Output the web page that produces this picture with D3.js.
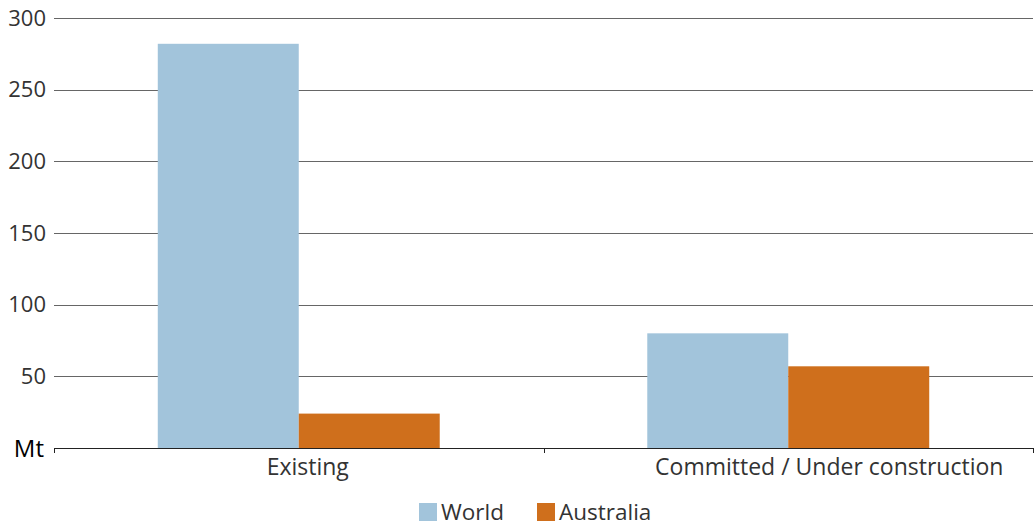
<!DOCTYPE html>
<html>
<head>
<meta charset="utf-8">
<script src="https://cdn.jsdelivr.net/npm/d3@7"></script>
<style>
  html, body { margin: 0; padding: 0; background: #fff; }
  svg { display: block; font-family: "Open Sans", "Noto Sans", sans-serif; }
</style>
</head>
<body>
<svg id="chart" width="1035" height="527"></svg>
<script>
// Capacity by project status, in Mt
const categories = ["Existing", "Committed / Under construction"];
const seriesNames = ["World", "Australia"];
const worldValues = [282, 80];
const australiaValues = [24, 57];
const yTicks = [50, 100, 150, 200, 250, 300];
const seriesColors = ["#a2c4db", "#cf6f1c"];

const svg = d3.select("#chart");
const margin = { left: 54, right: 2, top: 18, bottom: 79 };
const W = 1035, H = 527;
const plotBottom = H - margin.bottom;

const x0 = d3.scaleBand().domain(categories).range([margin.left, W - margin.right]).padding(0);
const groupPad = x0.bandwidth() * 0.212;
const x1 = d3.scaleBand().domain(seriesNames).range([groupPad, x0.bandwidth() - groupPad]).padding(0);
const y = d3.scaleLinear().domain([0, 300]).range([plotBottom, margin.top]);

const rows = categories.map((c, i) => ({ cat: c, vals: [worldValues[i], australiaValues[i]] }));

// gridlines
svg.append("g")
  .selectAll("line")
  .data(yTicks)
  .join("line")
  .attr("x1", margin.left).attr("x2", W - margin.right)
  .attr("y1", d => Math.round(y(d)) + 0.5).attr("y2", d => Math.round(y(d)) + 0.5)
  .attr("stroke", "#666").attr("stroke-width", 1.2);

// bars
const groups = svg.append("g").selectAll("g")
  .data(rows)
  .join("g")
  .attr("transform", d => `translate(${x0(d.cat)},0)`);

groups.selectAll("rect")
  .data(d => d.vals.map((v, i) => ({ name: seriesNames[i], v, i })))
  .join("rect")
  .attr("x", d => x1(d.name))
  .attr("width", x1.bandwidth())
  .attr("y", d => y(d.v))
  .attr("height", d => y(0) - y(d.v))
  .attr("fill", d => seriesColors[d.i]);

// y tick labels
svg.append("g")
  .selectAll("text")
  .data(yTicks)
  .join("text")
  .attr("x", 46).attr("y", d => y(d))
  .attr("dy", "0.35em")
  .attr("text-anchor", "end")
  .attr("font-size", 22)
  .attr("fill", "#333")
  .text(d => d);

svg.append("text")
  .attr("x", 44).attr("y", y(0)).attr("dy", "0.38em")
  .attr("text-anchor", "end")
  .attr("font-size", 24)
  .attr("fill", "#000")
  .text("Mt");

// x axis
const xAxis = svg.append("g").attr("transform", `translate(0,${plotBottom})`);
xAxis.append("line")
  .attr("x1", margin.left).attr("x2", W - margin.right)
  .attr("y1", 0.5).attr("y2", 0.5)
  .attr("stroke", "#222").attr("stroke-width", 1.2);
const boundaries = categories.map(c => x0(c)).concat([x0(categories[categories.length - 1]) + x0.bandwidth()]);
xAxis.selectAll("line.tick")
  .data(boundaries)
  .join("line")
  .attr("class", "tick")
  .attr("x1", d => Math.round(d) + 0.5).attr("x2", d => Math.round(d) + 0.5)
  .attr("y1", 0).attr("y2", 5)
  .attr("stroke", "#222");

const labelShift = [9, 41];
xAxis.selectAll("text")
  .data(categories)
  .join("text")
  .attr("x", (d, i) => x0(d) + x0.bandwidth() / 2 + labelShift[i])
  .attr("y", 27)
  .attr("text-anchor", "middle")
  .attr("font-size", 23)
  .attr("fill", "#333")
  .text(d => d);

// legend
const legend = svg.append("g");
const legendX = [419, 537];
seriesNames.forEach((name, i) => {
  legend.append("rect")
    .attr("x", legendX[i]).attr("y", 503)
    .attr("width", 18).attr("height", 18)
    .attr("fill", seriesColors[i]);
  legend.append("text")
    .attr("x", legendX[i] + 22).attr("y", 520)
    .attr("font-size", 22.5)
    .attr("fill", "#333")
    .text(name);
});
</script>
</body>
</html>
